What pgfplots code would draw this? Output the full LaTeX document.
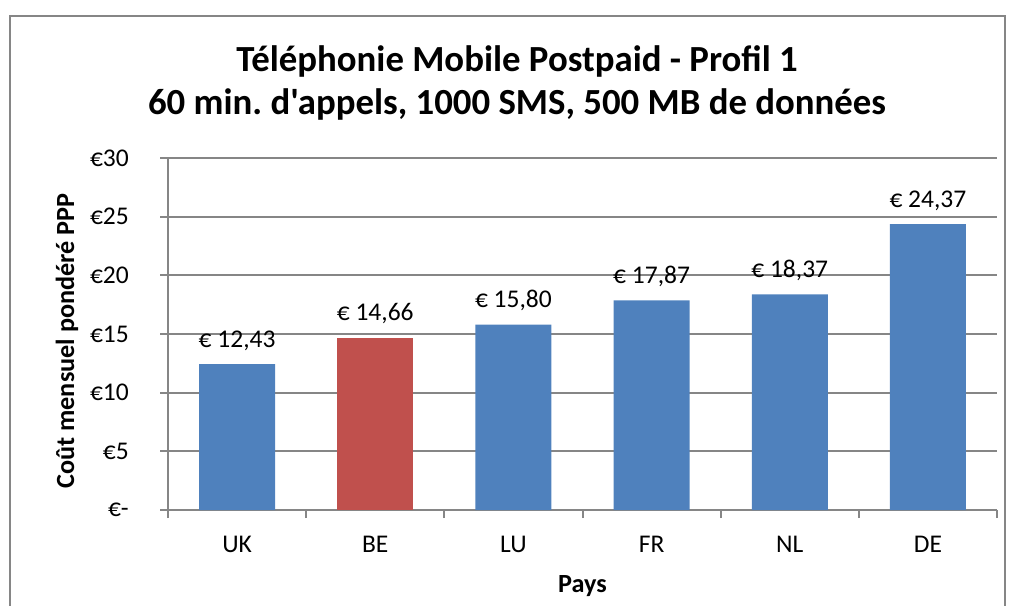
\documentclass[border=0pt]{standalone}
\usepackage{pgfplots}
\pgfplotsset{compat=1.18}
\usepackage{fontspec}
\setmainfont{Carlito}[Ligatures=TeXOff]
\definecolor{xlblue}{HTML}{4F81BD}
\definecolor{xlred}{HTML}{C0504D}
\definecolor{xlgray}{HTML}{868686}
\begin{document}
\begin{tikzpicture}[x=1pt,y=1pt]
\useasboundingbox (0,0) rectangle (1011,605);
\begin{scope}
\clip (0,0) rectangle (1011,605);
\draw[xlgray, line width=2.5pt] (10,-20) rectangle (1005,589);
\end{scope}
\node[font=\fontsize{36.8}{44}\selectfont\bfseries, anchor=base, inner sep=0pt] at (517,533) {Téléphonie Mobile Postpaid - Profil 1};
\node[font=\fontsize{36.8}{44}\selectfont\bfseries, anchor=base, inner sep=0pt] at (517,490) {60 min.\ d'appels, 1000 SMS, 500 MB de données};
\begin{axis}[
  at={(168pt,95pt)}, anchor=south west,
  width=829pt, height=352pt, scale only axis,
  xmin=-0.5, xmax=5.5, ymin=0, ymax=30,
  axis x line*=bottom, axis y line*=left,
  every outer x axis line/.append style={-},
  every outer y axis line/.append style={-},
  axis line style={xlgray, line width=2pt, -},
  ybar, bar width=76pt,
  ytick={0,5,...,30},
  yticklabels={€-,€5,€10,€15,€20,€25,€30},
  ymajorgrids, grid style={xlgray, line width=2pt},
  tick style={xlgray, line width=2pt},
  major tick length=8pt, tick align=outside,
  xtick={-0.5,0.5,...,5.5}, xticklabels={},
  extra x ticks={0,1,2,3,4,5},
  extra x tick labels={UK,BE,LU,FR,NL,DE},
  extra x tick style={major tick length=0pt, grid=none},
  ticklabel style={font=\fontsize{25.5}{30}\selectfont, inner sep=0pt},
  yticklabel style={anchor=east, xshift=-31pt},
  xticklabel style={anchor=north, yshift=-26pt},
  xlabel={Pays},
  ylabel={Coût mensuel pondéré PPP},
  label style={font=\fontsize{26.2}{30}\selectfont\bfseries, inner sep=0pt},
  xlabel style={at={(axis description cs:0.5,0)}, anchor=base, yshift=-82pt},
  ylabel style={at={(axis description cs:-0.1218,0.48)}, anchor=center, rotate=0},
  nodes near coords={€ \pgfmathprintnumber[fixed,zerofill,precision=2,use comma,assume math mode=true]{\pgfplotspointmeta}},
  every node near coord/.append style={font=\fontsize{25.5}{30}\selectfont, anchor=base, yshift=17pt, inner sep=0pt, text=black},
  point meta=y,
  clip=false,
]
\addplot[fill=xlblue, draw=none, bar shift=0pt] coordinates {(0,12.43) (2,15.80) (3,17.87) (4,18.37) (5,24.37)};
\addplot[fill=xlred, draw=none, bar shift=0pt] coordinates {(1,14.66)};
\end{axis}
\end{tikzpicture}
\end{document}
